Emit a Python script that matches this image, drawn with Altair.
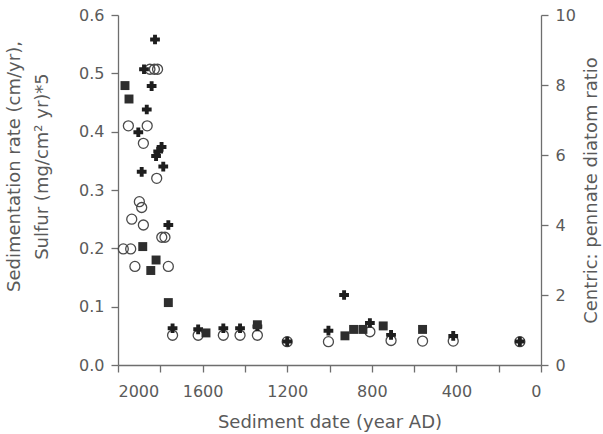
import altair as alt
import pandas as pd

# Filled squares: sedimentation rate (left axis)
sq_year = [1967, 1948, 1883, 1845, 1820, 1762, 1584, 1341, 927, 886, 842, 746, 560]
sq_val = [0.479, 0.456, 0.203, 0.162, 0.180, 0.107, 0.055, 0.069, 0.050, 0.061, 0.061, 0.067, 0.061]

# Open circles: sulfur*5 (left axis)
circ_year = [1849, 1828, 1813, 1951, 1862, 1880, 1817, 1899, 1888, 1935, 1880, 1793, 1778,
             1975, 1940, 1920, 1762, 1742, 1621, 1502, 1423, 1341, 1200, 1005, 809, 709,
             560, 415, 100]
circ_val = [0.507, 0.507, 0.507, 0.410, 0.410, 0.380, 0.320, 0.280, 0.270, 0.250, 0.240, 0.219, 0.219,
            0.199, 0.199, 0.169, 0.169, 0.051, 0.051, 0.051, 0.051, 0.051, 0.040, 0.040, 0.057, 0.042,
            0.041, 0.041, 0.040]

# Crosses: centric:pennate diatom ratio (right axis)
cross_year = [1825, 1877, 1841, 1864, 1904, 1794, 1810, 1820, 1786, 1888, 1762,
              1742, 1621, 1502, 1423, 1341, 1200, 1005, 931, 809, 709, 415, 100]
cross_ratio = [9.3, 8.45, 7.97, 7.3, 6.65, 6.23, 6.1, 5.97, 5.67, 5.52, 4.0,
               1.05, 1.02, 1.05, 1.05, 1.1, 0.67, 0.98, 2.0, 1.2, 0.86, 0.83, 0.67]

x_ticks = list(range(0, 2001, 200))
left_ticks = [0.0, 0.1, 0.2, 0.3, 0.4, 0.5, 0.6]
right_ticks = [0, 2, 4, 6, 8, 10]

FONT = "DejaVu Sans"
TXT = "#5a5a5a"
AX = "#6e6e6e"

sq_df = pd.DataFrame({"year": sq_year, "value": sq_val})
circ_df = pd.DataFrame({"year": circ_year, "value": circ_val})
cross_df = pd.DataFrame({"year": cross_year, "ratio": cross_ratio})

xenc = alt.X(
    "year:Q",
    scale=alt.Scale(domain=[0, 2000], reverse=True, nice=False, zero=False),
    axis=alt.Axis(
        values=x_ticks,
        format="d",
        labelExpr="datum.value % 400 == 0 ? datum.label : ''",
        title="Sediment date (year AD)",
        labelPadding=11,
        titlePadding=14,
    ),
)

left_axis = alt.Axis(
    values=left_ticks,
    format=".1f",
    orient="left",
    title=["Sedimentation rate (cm/yr),", "Sulfur (mg/cm² yr)*5"],
    labelPadding=7,
    titlePadding=27,
    titleLineHeight=28,
    titleY=151,
)
yleft = alt.Y("value:Q", scale=alt.Scale(domain=[0, 0.6], nice=False, zero=False), axis=left_axis)

circles = alt.Chart(circ_df).mark_point(
    shape="circle", filled=False, size=100, strokeWidth=1.3, color="#4a4a4a", opacity=1
).encode(x=xenc, y=yleft)

crosses = alt.Chart(cross_df).transform_calculate(
    value="datum.ratio * 0.06"
).mark_point(
    shape="cross", filled=True, size=95, color="#1e1e1e", opacity=1
).encode(x=xenc, y=yleft)

squares = alt.Chart(sq_df).mark_point(
    shape="square", filled=True, size=80, color="#2e2e2e", opacity=1
).encode(x=xenc, y=yleft)

left = alt.layer(circles, crosses, squares)

right_axis_layer = alt.Chart(cross_df).mark_point(opacity=0).encode(
    x=xenc,
    y=alt.Y(
        "ratio:Q",
        scale=alt.Scale(domain=[0, 10], nice=False, zero=False),
        axis=alt.Axis(
            values=right_ticks,
            orient="right",
            title="Centric: pennate diatom ratio",
            titleAngle=270,
            labelPadding=7,
            titlePadding=25,
        ),
    ),
)

chart = (
    alt.layer(left, right_axis_layer)
    .resolve_scale(y="independent")
    .properties(
        width=423,
        height=350,
        autosize=alt.AutoSizeParams(type="none"),
        padding={"left": 118, "top": 15, "right": 62, "bottom": 69},
        background="white",
    )
    .configure_view(stroke=None)
    .configure_axis(
        grid=False,
        domainColor=AX,
        domainWidth=1.3,
        tickColor=AX,
        tickWidth=1.3,
        tickSize=7,
        labelFont=FONT,
        labelFontSize=16,
        labelColor=TXT,
        titleFont=FONT,
        titleFontSize=18,
        titleFontWeight="normal",
        titleColor=TXT,
    )
)

chart.save("out.html", embed_options={"renderer": "svg", "actions": False})
